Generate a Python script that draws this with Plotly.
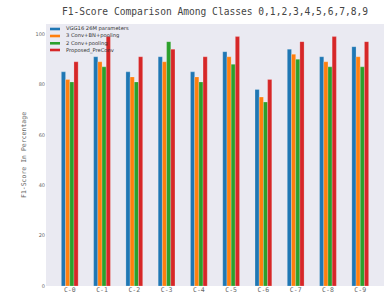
import plotly.graph_objects as go

classes = ["C-0", "C-1", "C-2", "C-3", "C-4", "C-5", "C-6", "C-7", "C-8", "C-9"]
series_names = ["VGG16 26M parameters", "3 Conv+BN+pooling", "2 Conv+pooling", "Proposed_PreConv"]
vgg16 = [85, 91, 85, 91, 85, 93, 78, 94, 91, 95]
conv3_bn = [82, 89, 83, 89, 83, 91, 75, 92, 89, 91]
conv2 = [81, 87, 81, 97, 81, 88, 73, 90, 87, 87]
preconv = [89, 99, 91, 94, 91, 99, 82, 97, 99, 97]
y_ticks = [0, 20, 40, 60, 80, 100]

series = [vgg16, conv3_bn, conv2, preconv]
colors = ["#1f77b4", "#ff7f0e", "#2ca02c", "#d62728"]

W, H = 386, 293
L, R, T, B = 46, 2, 24, 7

fig = go.Figure()
xs = list(range(len(classes)))
for name, vals, col in zip(series_names, series, colors):
    fig.add_trace(go.Bar(
        x=xs, y=vals, name=name,
        marker=dict(color=col, line=dict(color="rgba(255,255,255,0.35)", width=0.6)),
        showlegend=False,
    ))

# compact legend drawn like matplotlib's
pw = W - L - R
ph = H - T - B
row_y = [29, 36, 43.3, 50]
for name, col, yy in zip(series_names, colors, row_y):
    yp = (H - B - yy) / ph
    fig.add_shape(type="rect", xref="paper", yref="paper",
                  x0=(50 - L) / pw, x1=(60 - L) / pw,
                  y0=yp - 1.3 / ph, y1=yp + 1.3 / ph,
                  fillcolor=col, line=dict(width=0))
    fig.add_annotation(xref="paper", yref="paper", x=(64 - L) / pw, y=yp,
                       text=name, showarrow=False, xanchor="left", yanchor="middle",
                       font=dict(family="DejaVu Sans", size=5.2, color="#333333"))

fig.update_layout(
    width=W, height=H,
    margin=dict(l=L, r=R, t=T, b=B, autoexpand=False),
    paper_bgcolor="white",
    plot_bgcolor="#eaeaf2",
    barmode="group", bargap=0.48, bargroupgap=0,
    title=dict(text="F1-Score Comparison Among Classes 0,1,2,3,4,5,6,7,8,9",
               x=(L + pw / 2) / W, xanchor="center", y=1 - 12 / H, yanchor="middle",
               font=dict(family="DejaVu Sans Mono", size=9.6, color="#444444")),
    xaxis=dict(range=[-0.736, 9.736], tickvals=xs, ticktext=classes,
               showgrid=False, zeroline=False, ticks="", automargin=False,
               ticklabelstandoff=-2,
               tickfont=dict(family="DejaVu Sans Mono", size=6.5, color="#666666")),
    yaxis=dict(range=[0, 104], tickvals=y_ticks, showgrid=False, zeroline=False,
               ticks="", automargin=False,
               tickfont=dict(family="DejaVu Sans", size=5, color="#666666"),
               title=dict(text="F1-Score In Percentage", standoff=8,
                          font=dict(family="DejaVu Sans Mono", size=6.5, color="#666666"))),
)

fig.write_html("out.html", config={"displayModeBar": False},
               post_script="document.body.style.margin='0';document.body.style.overflow='hidden';")
